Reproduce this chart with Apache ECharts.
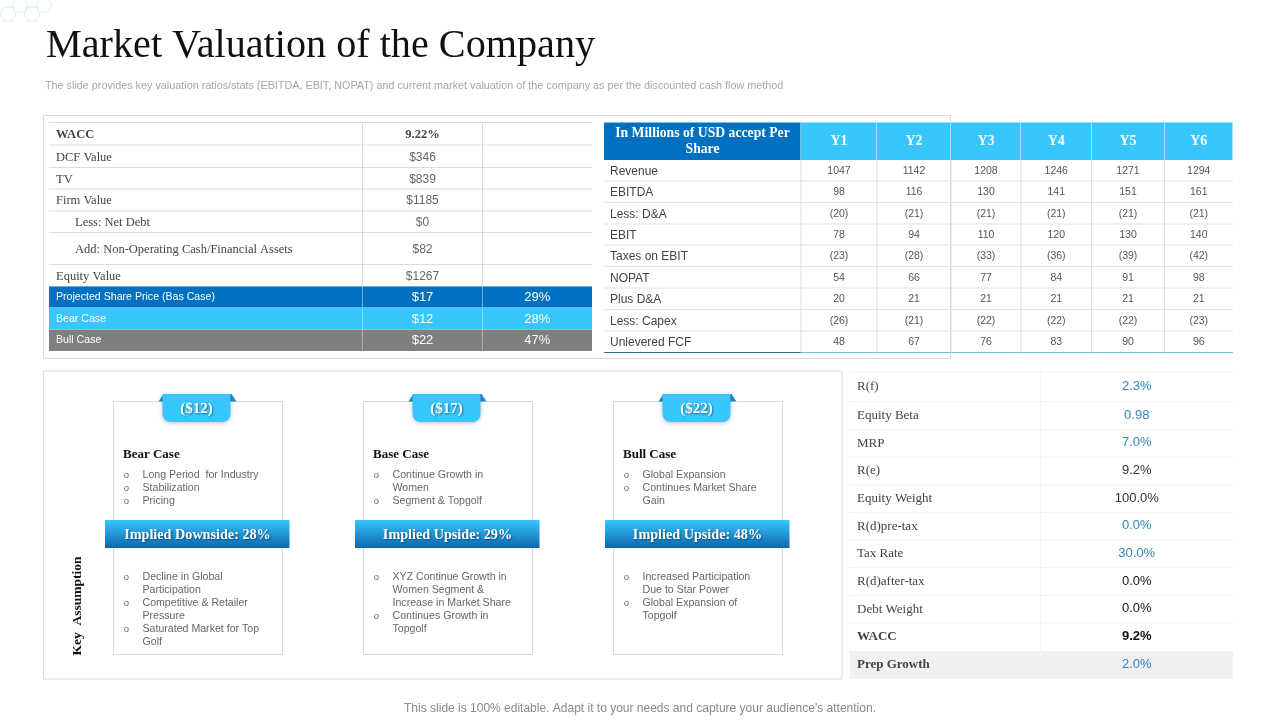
<!DOCTYPE html>
<html>
<head>
<meta charset="utf-8">
<style>html,body{margin:0;padding:0;background:#fff}#main{width:1280px;height:720px}</style>
<script src="https://cdn.jsdelivr.net/npm/echarts@6/dist/echarts.min.js"></script>
</head>
<body>
<div id="main"></div>
<script>
var titleText = 'Market Valuation of the Company';
var subtitleText = 'The slide provides key valuation ratios/stats (EBITDA, EBIT, NOPAT) and current market valuation of the company as per the discounted cash flow method';
var footerText = "This slide is 100% editable. Adapt it to your needs and capture your audience's attention.";

// left table
var valuationLabels = ['WACC', 'DCF Value', 'TV', 'Firm Value', 'Less: Net Debt', 'Add: Non-Operating Cash/Financial Assets', 'Equity Value', 'Projected Share Price (Bas Case)', 'Bear Case', 'Bull Case'];
var valuationValues = ['9.22%', '$346', '$839', '$1185', '$0', '$82', '$1267', '$17', '$12', '$22'];
var valuationShares = ['', '', '', '', '', '', '', '29%', '28%', '47%'];

// right table
var forecastHeader = 'In Millions of USD accept Per\nShare';
var forecastYears = ['Y1', 'Y2', 'Y3', 'Y4', 'Y5', 'Y6'];
var forecastLabels = ['Revenue', 'EBITDA', 'Less: D&A', 'EBIT', 'Taxes on EBIT', 'NOPAT', 'Plus D&A', 'Less: Capex', 'Unlevered FCF'];
var revenue = ['1047', '1142', '1208', '1246', '1271', '1294'];
var ebitda = ['98', '116', '130', '141', '151', '161'];
var lessDna = ['(20)', '(21)', '(21)', '(21)', '(21)', '(21)'];
var ebit = ['78', '94', '110', '120', '130', '140'];
var taxes = ['(23)', '(28)', '(33)', '(36)', '(39)', '(42)'];
var nopat = ['54', '66', '77', '84', '91', '98'];
var plusDna = ['20', '21', '21', '21', '21', '21'];
var capex = ['(26)', '(21)', '(22)', '(22)', '(22)', '(23)'];
var fcf = ['48', '67', '76', '83', '90', '96'];
var forecastRows = [revenue, ebitda, lessDna, ebit, taxes, nopat, plusDna, capex, fcf];

// wacc table
var waccLabels = ['R(f)', 'Equity Beta', 'MRP', 'R(e)', 'Equity Weight', 'R(d)pre-tax', 'Tax Rate', 'R(d)after-tax', 'Debt Weight', 'WACC', 'Prep Growth'];
var waccValues = ['2.3%', '0.98', '7.0%', '9.2%', '100.0%', '0.0%', '30.0%', '0.0%', '0.0%', '9.2%', '2.0%'];

// scenario cards
var caseNames = ['Bear Case', 'Base Case', 'Bull Case'];
var casePrices = ['($12)', '($17)', '($22)'];
var caseBanners = ['Implied Downside: 28%', 'Implied Upside: 29%', 'Implied Upside: 48%'];
var caseTopBullets = [
    [['Long Period  for Industry'], ['Stabilization'], ['Pricing']],
    [['Continue Growth in', 'Women'], ['Segment & Topgolf']],
    [['Global Expansion'], ['Continues Market Share', 'Gain']]
];
var caseBottomBullets = [
    [['Decline in Global', 'Participation'], ['Competitive & Retailer', 'Pressure'], ['Saturated Market for Top', 'Golf']],
    [['XYZ Continue Growth in', 'Women Segment &', 'Increase in Market Share'], ['Continues Growth in', 'Topgolf']],
    [['Increased Participation', 'Due to Star Power'], ['Global Expansion of', 'Topgolf']]
];

var SERIF = '"Liberation Serif"';
var SANS = '"Liberation Sans"';
var BLUE = '#0070c0', SKY = '#38c6ff', GREY = '#7f7f7f';

var myChart = echarts.init(document.getElementById('main'));

// one custom series per table, cell edges go through the page axes
function tableSeries(colEdges, rowEdges, cells) {
    return {
        type: 'custom',
        coordinateSystem: 'cartesian2d',
        clip: false,
        silent: true,
        data: cells.map(function (cell) { return [cell.c, cell.r]; }),
        renderItem: function (params, api) {
            var cell = cells[params.dataIndex];
            var p0 = api.coord([colEdges[cell.c], rowEdges[cell.r]]);
            var p1 = api.coord([colEdges[cell.c + 1], rowEdges[cell.r + 1]]);
            var children = [];
            if (cell.fill) {
                children.push({ type: 'rect', shape: { x: p0[0], y: p0[1], width: p1[0] - p0[0], height: p1[1] - p0[1] }, style: { fill: cell.fill } });
            }
            if (cell.bottom) {
                children.push({ type: 'line', shape: { x1: p0[0], y1: p1[1], x2: p1[0], y2: p1[1] }, style: { stroke: cell.bottom, lineWidth: cell.bottomWidth || 1 } });
            }
            if (cell.top) {
                children.push({ type: 'line', shape: { x1: p0[0], y1: p0[1], x2: p1[0], y2: p0[1] }, style: { stroke: cell.top, lineWidth: 1 } });
            }
            if (cell.right) {
                children.push({ type: 'line', shape: { x1: p1[0], y1: p0[1], x2: p1[0], y2: p1[1] }, style: { stroke: cell.right, lineWidth: 1 } });
            }
            if (cell.text) {
                var left = cell.align === 'left';
                children.push({
                    type: 'text',
                    style: {
                        x: left ? p0[0] + (cell.pad || 0) : (p0[0] + p1[0]) / 2,
                        y: (p0[1] + p1[1]) / 2 + (cell.dy || 0),
                        text: cell.text,
                        font: cell.font,
                        fill: cell.color,
                        textAlign: left ? 'left' : 'center',
                        textVerticalAlign: 'middle',
                        lineHeight: cell.lineHeight
                    }
                });
            }
            return { type: 'group', children: children };
        }
    };
}

// left table
var valuationCols = [49, 362.5, 482.5, 592];
var valuationEdges = [122.5, 145, 167.5, 189, 211, 232.5, 264.5, 286.5, 308, 329.5, 351];
var valuationFills = { 7: BLUE, 8: SKY, 9: GREY };
var valuationCells = [];
valuationLabels.forEach(function (label, r) {
    var fill = valuationFills[r];
    var line = fill ? '#dfe9f0' : '#dcdcdc';
    var base = { r: r, fill: fill, bottom: r < 9 ? (r >= 6 ? '#d8ecf6' : '#dcdcdc') : null, top: r === 0 ? '#dcdcdc' : null };
    valuationCells.push(Object.assign({}, base, {
        c: 0, text: label, align: 'left', pad: (r === 4 || r === 5) ? 26 : 7, dy: fill ? 0 : 1,
        font: fill ? '10.6px ' + SANS : (r === 0 ? 'bold 12.5px ' : '12.5px ') + SERIF,
        color: fill ? '#fff' : '#444', right: line
    }));
    valuationCells.push(Object.assign({}, base, {
        c: 1, text: valuationValues[r], dy: fill ? 0.5 : 1,
        font: (r === 0 ? 'bold 12.5px ' + SERIF : (fill ? '13px ' : '12px ') + SANS),
        color: fill ? '#fff' : (r === 0 ? '#444' : '#666'), right: line
    }));
    valuationCells.push(Object.assign({}, base, {
        c: 2, text: valuationShares[r], font: '13px ' + SANS, color: '#fff', dy: 0.5
    }));
});

// right table
var forecastCols = [604, 801, 877, 951, 1021, 1091.5, 1164.5, 1233];
var forecastEdges = [122.5, 160, 181, 202.5, 224, 245, 266.5, 288, 309.5, 331, 352.5];
var forecastCells = [{ c: 0, r: 0, fill: BLUE, text: forecastHeader, font: 'bold 13.7px ' + SERIF, color: '#fff', lineHeight: 16, right: '#fff' }];
forecastYears.forEach(function (year, i) {
    forecastCells.push({ c: i + 1, r: 0, fill: SKY, text: year, font: 'bold 14px ' + SERIF, color: '#fff', right: '#fff' });
});
forecastLabels.forEach(function (label, i) {
    var last = i === forecastLabels.length - 1;
    forecastCells.push({
        c: 0, r: i + 1, text: label, align: 'left', pad: 6, font: '12px ' + SANS, color: '#444', dy: 1,
        bottom: last ? '#2a6e90' : '#e0e0e0', right: '#d8dfe4'
    });
    forecastRows[i].forEach(function (val, k) {
        forecastCells.push({
            c: k + 1, r: i + 1, text: val, font: '10.5px ' + SANS, color: '#555', dy: 0.5,
            bottom: last ? '#6ec6de' : '#e0e0e0', right: k < 5 ? '#d8dfe4' : null
        });
    });
});

// wacc table
var waccCols = [850, 1040.5, 1233];
var waccEdges = [372, 401.5, 429.5, 457, 485, 512.5, 540, 567.5, 595.5, 623, 651, 679];
var waccBlue = [0, 1, 2, 5, 6, 10];
var waccCells = [];
waccLabels.forEach(function (label, r) {
    var strong = r >= 9;
    var fill = r === 10 ? '#f0f0f0' : null;
    var line = r < 9 ? '#f2f2f2' : null;
    waccCells.push({
        c: 0, r: r, fill: fill, text: label, align: 'left', pad: 7, bottom: line, right: r < 10 ? '#f4f4f4' : null, top: r === 0 ? '#f4f4f4' : null,
        font: (strong ? 'bold 13px ' : '13px ') + SERIF, color: '#444', dy: 0
    });
    waccCells.push({
        c: 1, r: r, fill: fill, text: waccValues[r], bottom: line, top: r === 0 ? '#f4f4f4' : null, dy: -0.5,
        font: (r === 9 ? 'bold 13px ' : '13px ') + SANS,
        color: waccBlue.indexOf(r) >= 0 ? '#2e86c1' : (r > 6 ? '#111' : '#333')
    });
});

// slide furniture
function txt(x, y, text, font, fill, align, shadow) {
    var style = { x: x, y: y, text: text, font: font, fill: fill, textAlign: align || 'left', textVerticalAlign: 'middle' };
    if (shadow) {
        style.textShadowColor = 'rgba(0,0,0,0.45)';
        style.textShadowBlur = 2;
        style.textShadowOffsetX = 1;
        style.textShadowOffsetY = 1;
    }
    return { type: 'text', style: style };
}
function frame(x, y, w, h, stroke) {
    return { type: 'rect', shape: { x: x, y: y, width: w, height: h }, style: { fill: 'none', stroke: stroke, lineWidth: 1 } };
}
function hexagon(cx, cy, r) {
    var pts = [];
    for (var i = 0; i < 6; i++) {
        pts.push([cx + r * Math.cos(Math.PI / 3 * i), cy + r * Math.sin(Math.PI / 3 * i)]);
    }
    return { type: 'polygon', shape: { points: pts }, style: { fill: 'none', stroke: '#d9eef7', lineWidth: 1 } };
}

var furniture = [
    hexagon(8, 14, 8), hexagon(20, 5, 8), hexagon(32, 14, 8), hexagon(44, 5, 8),
    txt(46, 46.5, titleText, '40.2px ' + SERIF, '#111'),
    txt(45, 86.5, subtitleText, '10.8px ' + SANS, '#a6a6a6'),
    txt(640, 708.5, footerText, '12px ' + SANS, '#888', 'center'),
    frame(43.5, 115.5, 907, 243, '#dcdcdc'),
    frame(43.5, 371, 798.5, 308, '#dcdcdc'),
    {
        type: 'text', x: 78, y: 606, rotation: Math.PI / 2,
        style: { x: 0, y: 0, text: 'Key  Assumption', font: 'bold 13.5px ' + SERIF, fill: '#111', textAlign: 'center', textVerticalAlign: 'middle' }
    }
];

function bulletLines(items, x, y) {
    var out = [];
    items.forEach(function (lines) {
        lines.forEach(function (line, i) {
            if (i === 0) out.push(txt(x + 3, y, 'o', '9.5px ' + SANS, '#666', 'center'));
            out.push(txt(x + 19, y, line, '10.6px ' + SANS, '#666'));
            y += 13;
        });
    });
    return out;
}

var cardLefts = [113.5, 363.5, 613.5];
caseNames.forEach(function (name, i) {
    var x = cardLefts[i];
    furniture.push({ type: 'rect', shape: { x: x, y: 401.5, width: 169, height: 253 }, style: { fill: '#fff', stroke: '#d9d9d9', lineWidth: 1 } });
    // price tab with its two folded corners
    furniture.push({ type: 'polygon', shape: { points: [[x + 45, 401.5], [x + 50, 394], [x + 118, 394], [x + 123, 401.5]] }, style: { fill: '#1e8fc4' } });
    furniture.push({
        type: 'rect', shape: { x: x + 49, y: 394, width: 68, height: 28, r: [0, 0, 8, 8] },
        style: { fill: SKY, shadowBlur: 4, shadowColor: 'rgba(0,0,0,0.25)', shadowOffsetY: 1 }
    });
    furniture.push(txt(x + 83, 409.5, casePrices[i], 'bold 15px ' + SERIF, '#fff', 'center', true));
    furniture.push(txt(x + 9.5, 454.5, name, 'bold 13px ' + SERIF, '#111'));
    furniture = furniture.concat(bulletLines(caseTopBullets[i], x + 10, 475));
    furniture = furniture.concat(bulletLines(caseBottomBullets[i], x + 10, 577));
    furniture.push({
        type: 'rect', shape: { x: x - 8.5, y: 520, width: 184.5, height: 28 },
        style: { fill: new echarts.graphic.LinearGradient(0, 0, 0, 1, [{ offset: 0, color: '#38c6ff' }, { offset: 1, color: '#0b66ad' }]) }
    });
    furniture.push(txt(x + 84, 535.5, caseBanners[i], 'bold 14.2px ' + SERIF, '#fff', 'center', true));
});

var option = {
    animation: false,
    backgroundColor: '#fff',
    grid: { left: 0, right: 0, top: 0, bottom: 0 },
    xAxis: { type: 'value', min: 0, max: 1280, show: false },
    yAxis: { type: 'value', min: 0, max: 720, inverse: true, show: false },
    graphic: { elements: furniture },
    series: [
        tableSeries(valuationCols, valuationEdges, valuationCells),
        tableSeries(forecastCols, forecastEdges, forecastCells),
        tableSeries(waccCols, waccEdges, waccCells)
    ]
};
myChart.setOption(option);
</script>
</body>
</html>
